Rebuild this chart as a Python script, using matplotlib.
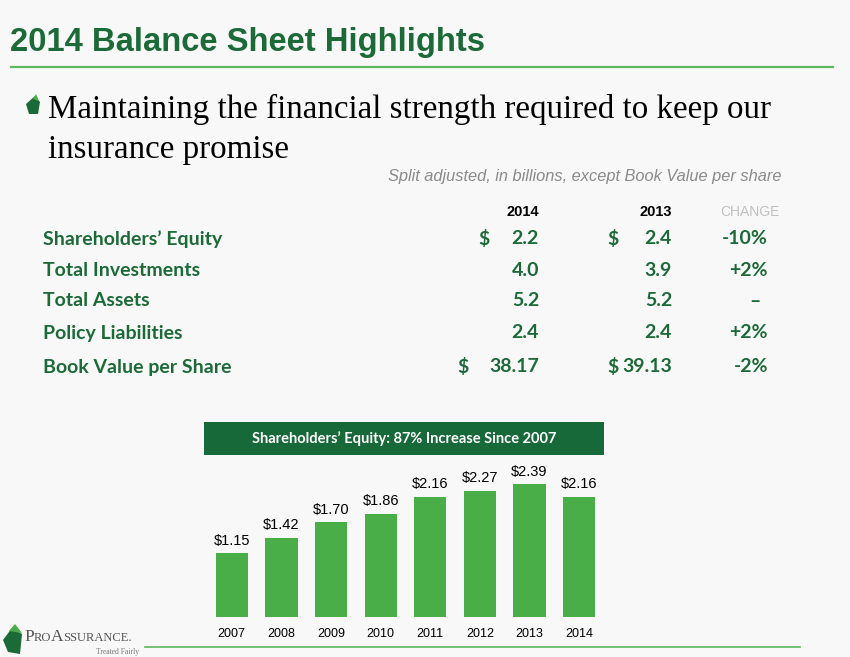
import matplotlib
matplotlib.use("Agg")
import matplotlib.pyplot as plt
from matplotlib.patches import Rectangle, Polygon

W, H = 850, 657

# data
row_labels = ["Shareholders\u2019 Equity", "Total Investments", "Total Assets",
              "Policy Liabilities", "Book Value per Share"]
vals_2014 = ["2.2", "4.0", "5.2", "2.4", "38.17"]
vals_2013 = ["2.4", "3.9", "5.2", "2.4", "39.13"]
changes = ["-10%", "+2%", "\u2013", "+2%", "-2%"]
dollar_rows = [0, 4]

years = ["2007", "2008", "2009", "2010", "2011", "2012", "2013", "2014"]
equity = [1.15, 1.42, 1.70, 1.86, 2.16, 2.27, 2.39, 2.16]

dark_green = "#1b6a37"
bar_green = "#4aae48"
line_green = "#5cb85c"


def fx(x):
    return x / W


def fy(y):
    return 1 - y / H


fig = plt.figure(figsize=(8.5, 6.57), dpi=100)
fig.patch.set_facecolor("#f8f8f8")

# title and rule
fig.text(fx(10), fy(42), "2014 Balance Sheet Highlights", fontsize=23.6, fontweight="bold",
         color=dark_green, family="Liberation Sans", va="center", ha="left")
fig.add_artist(plt.Line2D([fx(11), fx(833)], [fy(67), fy(67)], color=line_green, lw=1.6))

# bullet icon
fig.add_artist(Polygon([[fx(26), fy(104)], [fx(35), fy(96)], [fx(40), fy(102)],
                        [fx(38), fy(114)], [fx(29), fy(114)]],
                       closed=True, facecolor=dark_green, edgecolor="none"))
fig.add_artist(Polygon([[fx(33), fy(99)], [fx(36), fy(94)], [fx(39), fy(101)]],
                       closed=True, facecolor=bar_green, edgecolor="none"))

fig.text(fx(48), fy(118), "Maintaining the financial strength required to keep our",
         fontsize=23.8, family="Liberation Serif", color="black", va="baseline")
fig.text(fx(48), fy(158), "insurance promise",
         fontsize=23.8, family="Liberation Serif", color="black", va="baseline")

fig.text(fx(781), fy(176), "Split adjusted, in billions, except Book Value per share",
         fontsize=11.8, style="italic", family="Liberation Sans", color="#8a8a8a",
         ha="right", va="center")

# table
fig.text(fx(539), fy(212), "2014", fontsize=10.5, fontweight="bold", family="Liberation Sans",
         color="black", ha="right", va="center")
fig.text(fx(672), fy(212), "2013", fontsize=10.5, fontweight="bold", family="Liberation Sans",
         color="black", ha="right", va="center")
fig.text(fx(750), fy(212), "CHANGE", fontsize=10, family="Liberation Sans",
         color="#c0c0c0", ha="center", va="center")

row_y = [239, 270, 301, 333, 367]
for i, lab in enumerate(row_labels):
    y = fy(row_y[i])
    kw = dict(fontsize=14, fontweight="bold", family="Lato", color=dark_green, va="center")
    fig.text(fx(43), y, lab, ha="left", **kw)
    fig.text(fx(539), y, vals_2014[i], ha="right", **kw)
    fig.text(fx(672), y, vals_2013[i], ha="right", **kw)
    if changes[i] == "\u2013":
        fig.text(fx(755), y, changes[i], ha="center", **kw)
    else:
        fig.text(fx(768), y, changes[i], ha="right", **kw)
    if i in dollar_rows:
        fig.text(fx(478) if i == 0 else fx(457), y, "$", ha="left", **kw)
        fig.text(fx(607), y, "$", ha="left", **kw)

# banner
fig.add_artist(Rectangle((fx(204), fy(455)), fx(400), 33 / H, facecolor="#18693a",
                         edgecolor="none"))
fig.text(fx(404), fy(439), "Shareholders\u2019 Equity: 87% Increase Since 2007",
         fontsize=10.5, fontweight="bold", family="Lato", color="white",
         ha="center", va="center")

# bar chart
ax = fig.add_axes([fx(207), fy(617), fx(604 - 207), (617 - 460) / H])
ax.set_facecolor("none")
x = list(range(len(years)))
bars = ax.bar(x, equity, width=0.65, color=bar_green)
for xi, v in zip(x, equity):
    ax.annotate(f"${v:.2f}", (xi, v), xytext=(0, 4), textcoords="offset points",
                ha="center", va="bottom", fontsize=10.5, family="Liberation Sans")
ax.set_xlim(-0.5, len(years) - 0.5)
ax.set_ylim(0, 157 / 55.6)
ax.set_xticks(x)
ax.set_xticklabels(years, fontsize=9, family="Liberation Sans")
ax.tick_params(axis="x", length=0, pad=8)
ax.set_yticks([])
for s in ax.spines.values():
    s.set_visible(False)

# footer
fig.add_artist(plt.Line2D([fx(145), fx(800)], [fy(647), fy(647)], color=line_green, lw=1.2))
fig.add_artist(Polygon([[fx(3), fy(640)], [fx(12), fy(628)], [fx(22), fy(634)],
                        [fx(20), fy(654)], [fx(8), fy(652)]],
                       closed=True, facecolor=dark_green, edgecolor="none"))
fig.add_artist(Polygon([[fx(9), fy(631)], [fx(15), fy(624)], [fx(22), fy(633)]],
                       closed=True, facecolor=bar_green, edgecolor="none"))

renderer = fig.canvas.get_renderer()
logo_x = 24
for part, size in [("P", 12.5), ("RO", 9), ("A", 12.5), ("SSURANCE.", 9)]:
    t = fig.text(fx(logo_x), fy(641), part, fontsize=size, family="Liberation Serif",
                 color="#555555", va="baseline")
    logo_x += t.get_window_extent(renderer).width
fig.text(fx(96), fy(652), "Treated Fairly", fontsize=5.5, family="Liberation Serif",
         color="#777777", va="center")

fig.savefig("out.png", dpi=100, facecolor=fig.get_facecolor())
